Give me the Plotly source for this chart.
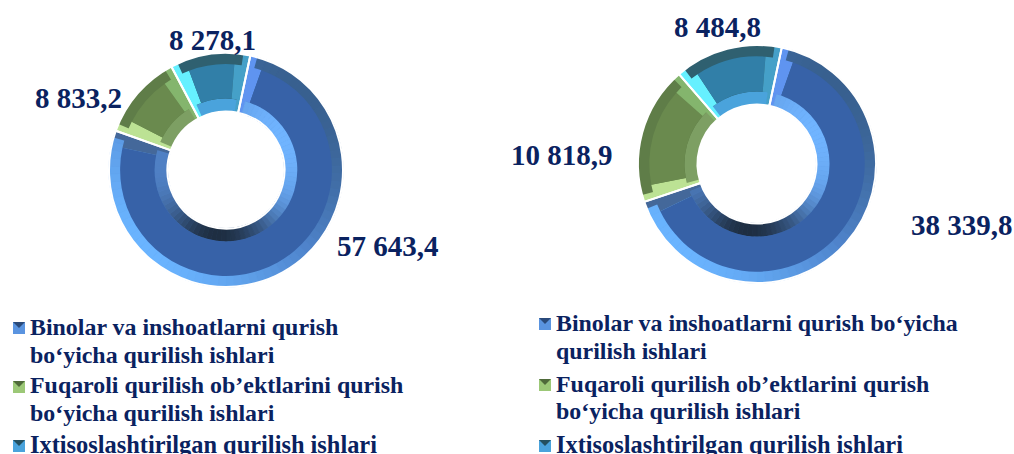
import math
import plotly.graph_objects as go

W, H = 1014, 454

categories = [
    "Binolar va inshoatlarni qurish bo‘yicha qurilish ishlari",
    "Fuqaroli qurilish ob’ektlarini qurish bo‘yicha qurilish ishlari",
    "Ixtisoslashtirilgan qurilish ishlari",
]
values_left = [57643.4, 8833.2, 8278.1]
values_right = [38339.8, 10818.9, 8484.8]
legend_lines_left = [
    ["Binolar va inshoatlarni qurish", "bo‘yicha qurilish ishlari"],
    ["Fuqaroli qurilish ob’ektlarini qurish", "bo‘yicha qurilish ishlari"],
    ["Ixtisoslashtirilgan qurilish ishlari"],
]
legend_lines_right = [
    ["Binolar va inshoatlarni qurish bo‘yicha", "qurilish ishlari"],
    ["Fuqaroli qurilish ob’ektlarini qurish", "bo‘yicha qurilish ishlari"],
    ["Ixtisoslashtirilgan qurilish ishlari"],
]

FACE = ["#3762a8", "#6a8a4e", "#317fa8"]
OUTER = ["#4f84cc", "#5f7d48", "#2f6070"]
INNER = ["#4f80c4", "#7d9f63", "#4aa3dc"]
START = ["#5f94f0", "#bce294", "#66f0ff"]
END = ["#44689a", "#84b56d", "#45a0c8"]
NAVY = "#0a2260"
FONT = "Liberation Serif"
CLEAR = "rgba(0,0,0,0)"
N_SHADE = 90


def dom(cx, cy, r):
    return dict(x=[(cx - r) / W, (cx + r) / W], y=[1 - (cy + r) / H, 1 - (cy - r) / H])


def fmt(v):
    return f"{v:,.1f}".replace(",", " ").replace(".", ",")


def mix(a, b, k):
    return tuple(x + (y - x) * k for x, y in zip(a, b))


def css(c):
    return "rgb(%d,%d,%d)" % tuple(round(x) for x in c)


def outer_shade(t):
    s = math.cos(math.radians(t - 225))
    base = (79, 132, 204)
    return css(mix(base, (106, 180, 255), s) if s > 0 else mix(base, (56, 96, 143), -s))


def inner_shade(t):
    c = (79, 128, 196)
    light = max(0.0, math.cos(math.radians(t - 60)))
    dark = max(0.0, math.cos(math.radians(t - 188))) ** 3
    c = mix(c, (112, 180, 255), light)
    c = mix(c, (30, 46, 66), dark)
    return css(c)


def ring_shades(shade, share, rot):
    cols = []
    for i in range(N_SHADE):
        t = (i + 0.5) * 360 / N_SHADE
        inside = (t - rot) % 360 < share * 360
        cols.append(shade(t) if inside else CLEAR)
    return cols


def add_donut(fig, values, cx, cy, r, rot):
    common = dict(sort=False, direction="clockwise", rotation=rot, textinfo="none",
                  hoverinfo="skip", showlegend=False)
    fixed = dict(common, rotation=0)
    share = values[0] / sum(values)
    fig.add_trace(go.Pie(values=values, domain=dom(cx, cy, r), hole=0.5,
                         marker=dict(colors=OUTER, line=dict(width=0)), **common))
    fig.add_trace(go.Pie(values=values, domain=dom(cx, cy, r * 0.61), hole=0.5 / 0.61,
                         marker=dict(colors=INNER, line=dict(width=0)), **common))
    oc = ring_shades(outer_shade, share, rot)
    ic = ring_shades(inner_shade, share, rot)
    fig.add_trace(go.Pie(values=[1] * N_SHADE, domain=dom(cx, cy, r), hole=0.5,
                         marker=dict(colors=oc, line=dict(color=oc, width=0.8)), **fixed))
    fig.add_trace(go.Pie(values=[1] * N_SHADE, domain=dom(cx, cy, r * 0.61), hole=0.5 / 0.61,
                         marker=dict(colors=ic, line=dict(color=ic, width=0.8)), **fixed))
    g1 = sum(values) * 3.5 / 360
    g2 = sum(values) * 7.5 / 360
    end_vals, end_cols, face_vals, face_cols = [], [], [], []
    for v, c, s, e in zip(values, FACE, START, END):
        end_vals += [g1, v - 2 * g1, g1]
        end_cols += [s, CLEAR, e]
        face_vals += [g2, v - 2 * g2, g2]
        face_cols += [s, c, e]
    fig.add_trace(go.Pie(values=end_vals, domain=dom(cx, cy, r), hole=0.5,
                         marker=dict(colors=end_cols, line=dict(width=0)), **common))
    fig.add_trace(go.Pie(values=face_vals, domain=dom(cx, cy, r * 0.905), hole=0.61 / 0.905,
                         marker=dict(colors=face_cols, line=dict(width=0)), **common))
    fig.add_trace(go.Pie(values=values, domain=dom(cx, cy, r), hole=0.5,
                         marker=dict(colors=[CLEAR] * 3, line=dict(color="white", width=2)), **common))


fig = go.Figure()
add_donut(fig, values_left, 226, 170, 117, 12)
add_donut(fig, values_right, 757, 164, 119, 12)

annotations = []
shapes = []


def text(x, y, s, size, anchor="center"):
    annotations.append(dict(x=x / W, y=1 - y / H, xref="paper", yref="paper", text=f"<b>{s}</b>",
                            showarrow=False, xanchor=anchor, yanchor="middle",
                            font=dict(family=FONT, size=size, color=NAVY)))


for v, (x, y) in zip(values_left, [(388, 246), (78, 98), (212, 40)]):
    text(x, y, fmt(v), 29)
for v, (x, y) in zip(values_right, [(962, 225), (562, 155), (717, 27)]):
    text(x, y, fmt(v), 29)


def legend(lines, x, ys, sq_x, sq_ys):
    it = iter(ys)
    for group, sy, i in zip(lines, sq_ys, range(3)):
        for ln in group:
            text(x, next(it), ln, 24.4 if len(group) == 1 else 23.9, "left")
        x0, x1 = sq_x / W, (sq_x + 12) / W
        y0, y1 = 1 - (sy + 12) / H, 1 - sy / H
        shapes.append(dict(type="rect", xref="paper", yref="paper", x0=x0, x1=x1, y0=y0, y1=y1,
                           fillcolor=["#5a94e0", "#9cc877", "#4aa3dc"][i], line=dict(width=0)))
        xm = (x0 + x1) / 2
        ym = (y0 + y1) / 2
        shapes.append(dict(type="path", xref="paper", yref="paper",
                           path=f"M {x0} {y1} L {x1} {y1} L {xm} {ym} Z",
                           fillcolor=["#2a4a7a", "#4f6a3a", "#24505f"][i], line=dict(width=0)))


legend(legend_lines_left, 28, [327, 355, 385, 413, 444], 13, [322, 381, 440])
legend(legend_lines_right, 554, [323, 351, 384, 411, 444], 539, [318, 379, 440])

fig.update_layout(width=W, height=H, margin=dict(l=0, r=0, t=0, b=0), paper_bgcolor="white",
                  annotations=annotations, shapes=shapes)
fig.write_html("out.html", config={"displayModeBar": False},
               post_script="document.body.style.margin='0';document.documentElement.style.overflow='hidden';")
